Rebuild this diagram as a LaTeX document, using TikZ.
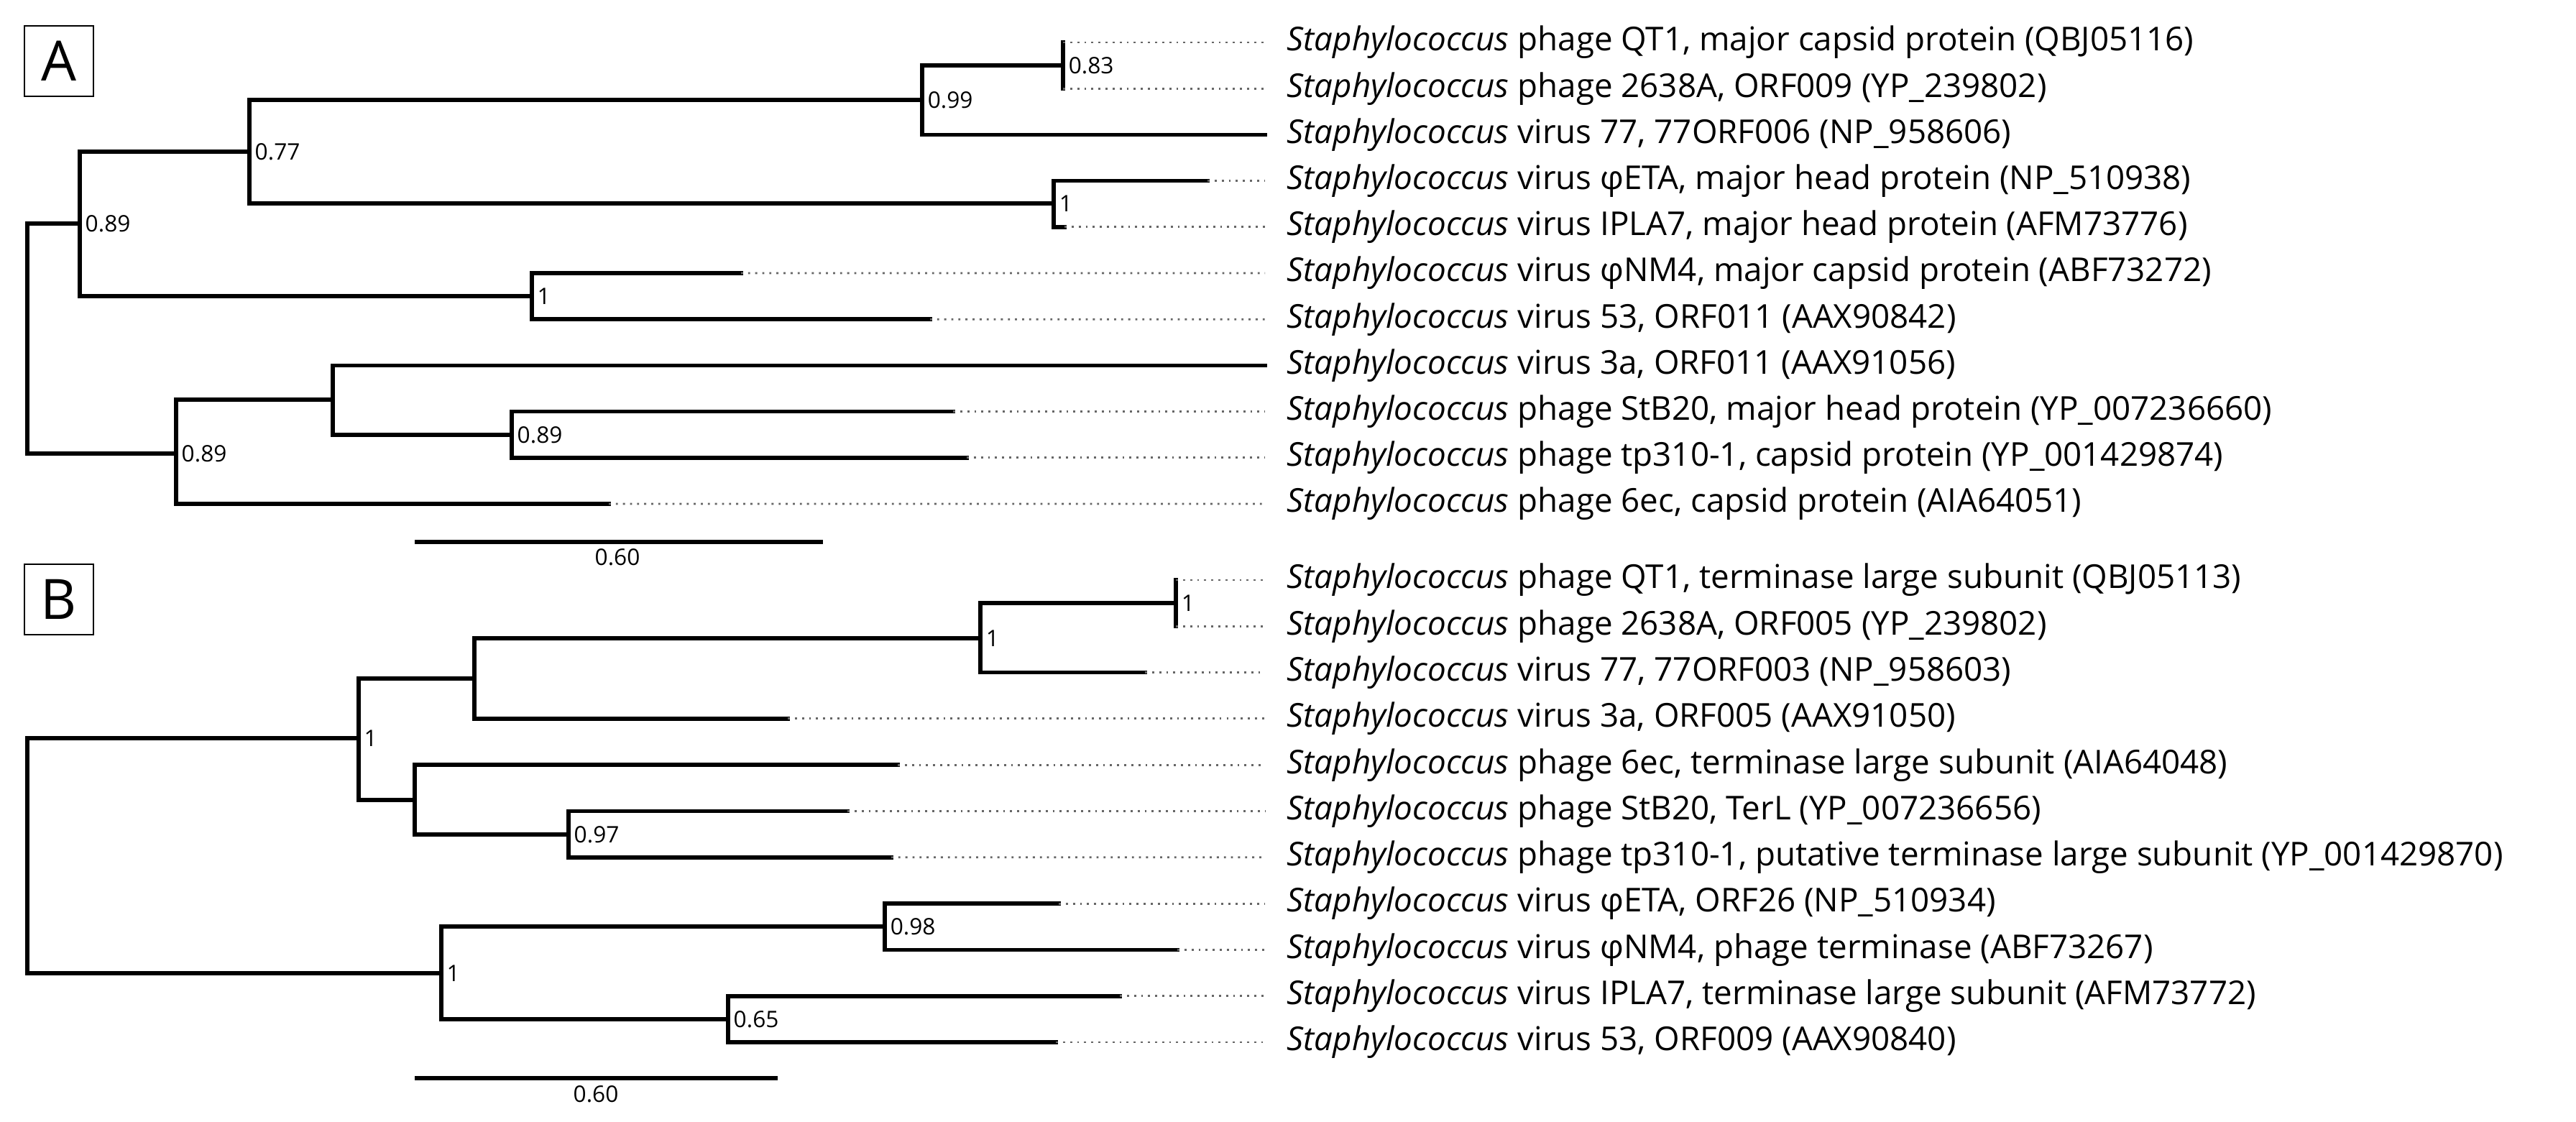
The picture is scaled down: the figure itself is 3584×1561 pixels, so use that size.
\documentclass[tikz,border=0pt]{standalone}
\usepackage{fontspec}
\setmainfont{Open Sans}
\usetikzlibrary{positioning,calc}
\tikzset{
  branch/.style={line width=1.6pt, line cap=rect},
  ext/.style={gray!80!black, line width=0.8pt, dotted, shorten >=0.3cm},
  leaf/.style={anchor=west, inner sep=0pt, font=\fontsize{13}{15}\selectfont},
  boot/.style={anchor=west, inner sep=2pt, font=\fontsize{9}{10}\selectfont},
  panel/.style={draw, line width=0.8pt, minimum width=0.96cm, minimum height=0.98cm, inner sep=0pt, font=\fontsize{22}{26}\selectfont}
}
\begin{document}
\begin{tikzpicture}[x=0.01cm, y=-0.01cm]
        \useasboundingbox (0,0) rectangle (3584,1561);

        % panel A
        \node[panel] (pA) at (82,85) {A};
        \foreach \t [count=\i from 0] in {
            {phage QT1, major capsid protein (QBJ05116)},
            {phage 2638A, ORF009 (YP\_239802)},
            {virus 77, 77ORF006 (NP\_958606)},
            {virus φETA, major head protein (NP\_510938)},
            {virus IPLA7, major head protein (AFM73776)},
            {virus φNM4, major capsid protein (ABF73272)},
            {virus 53, ORF011 (AAX90842)},
            {virus 3a, ORF011 (AAX91056)},
            {phage StB20, major head protein (YP\_007236660)},
            {phage tp310-1, capsid protein (YP\_001429874)},
            {phage 6ec, capsid protein (AIA64051)}}
            \node[leaf] (A\i) at (1790, 59+64.2*\i) {\textit{Staphylococcus} \t};

        \coordinate (ra) at (38,471);
        \coordinate (va) at (111,311);
        \coordinate (ua) at (347,211);
        \coordinate (pa) at (1283,139);
        \coordinate (qa) at (1479,91);
        \coordinate (ea) at (1466,283);
        \coordinate (na) at (740,412);
        \coordinate (wa) at (245,631);
        \coordinate (sa) at (463,556);
        \coordinate (ta) at (712,605);
        \coordinate (a0) at (1479,59);
        \coordinate (a1) at (1479,123.2);
        \coordinate (a2) at (1760,187.4);
        \coordinate (a3) at (1680,251.6);
        \coordinate (a4) at (1481,315.8);
        \coordinate (a5) at (1031,380);
        \coordinate (a6) at (1294,444.2);
        \coordinate (a7) at (1760,508.4);
        \coordinate (a8) at (1326,572.6);
        \coordinate (a9) at (1345,636.8);
        \coordinate (a10) at (847,701);

        \begin{scope}[branch]
            \draw (ra) |- (va);
            \draw (ra) |- (wa);
            \draw (va) |- (ua);
            \draw (va) |- (na);
            \draw (ua) |- (pa);
            \draw (ua) |- (ea);
            \draw (pa) |- (qa);
            \draw (pa) |- (a2);
            \draw (qa) |- (a0);
            \draw (qa) |- (a1);
            \draw (ea) |- (a3);
            \draw (ea) |- (a4);
            \draw (na) |- (a5);
            \draw (na) |- (a6);
            \draw (wa) |- (sa);
            \draw (wa) |- (a10);
            \draw (sa) |- (a7);
            \draw (sa) |- (ta);
            \draw (ta) |- (a8);
            \draw (ta) |- (a9);
        \end{scope}
        \foreach \i in {0,1,3,4,5,6,8,9,10}
            \draw[ext] (a\i) -- (A\i);

        \node[boot] (bqa) at (qa) {0.83};
        \node[boot] (bpa) at (pa) {0.99};
        \node[boot] (bua) at (ua) {0.77};
        \node[boot] (bea) at (ea) {1};
        \node[boot] (bva) at (va) {0.89};
        \node[boot] (bna) at (na) {1};
        \node[boot] (bwa) at (wa) {0.89};
        \node[boot] (bta) at (ta) {0.89};

        \coordinate (sA1) at (580,754);
        \coordinate (sA2) at (1142,754);
        \draw[branch] (sA1) -- (sA2);
        \node[boot, anchor=center] (lA) at (859,775) {0.60};

        % panel B
        \node[panel] (pB) at (82,834) {B};
        \foreach \t [count=\i from 0] in {
            {phage QT1, terminase large subunit (QBJ05113)},
            {phage 2638A, ORF005 (YP\_239802)},
            {virus 77, 77ORF003 (NP\_958603)},
            {virus 3a, ORF005 (AAX91050)},
            {phage 6ec, terminase large subunit (AIA64048)},
            {phage StB20, TerL (YP\_007236656)},
            {phage tp310-1, putative terminase large subunit (YP\_001429870)},
            {virus φETA, ORF26 (NP\_510934)},
            {virus φNM4, phage terminase (ABF73267)},
            {virus IPLA7, terminase large subunit (AFM73772)},
            {virus 53, ORF009 (AAX90840)}}
            \node[leaf] (B\i) at (1790, 807+64.3*\i) {\textit{Staphylococcus} \t};

        \coordinate (rb) at (38,1190);
        \coordinate (nb) at (499,1027);
        \coordinate (ob) at (660,944);
        \coordinate (pb) at (1364,888);
        \coordinate (qb) at (1636,839);
        \coordinate (mb) at (577,1113);
        \coordinate (kb) at (791,1161);
        \coordinate (hb) at (614,1354);
        \coordinate (gb) at (1231,1289);
        \coordinate (fb) at (1013,1418);
        \coordinate (b0) at (1636,807);
        \coordinate (b1) at (1636,871.3);
        \coordinate (b2) at (1593,935.6);
        \coordinate (b3) at (1096,999.9);
        \coordinate (b4) at (1249,1064.2);
        \coordinate (b5) at (1179,1128.5);
        \coordinate (b6) at (1240,1192.8);
        \coordinate (b7) at (1473,1257.1);
        \coordinate (b8) at (1638,1321.4);
        \coordinate (b9) at (1558,1385.7);
        \coordinate (b10) at (1469,1450);

        \begin{scope}[branch]
            \draw (rb) |- (nb);
            \draw (rb) |- (hb);
            \draw (nb) |- (ob);
            \draw (nb) |- (mb);
            \draw (ob) |- (pb);
            \draw (ob) |- (b3);
            \draw (pb) |- (qb);
            \draw (pb) |- (b2);
            \draw (qb) |- (b0);
            \draw (qb) |- (b1);
            \draw (mb) |- (b4);
            \draw (mb) |- (kb);
            \draw (kb) |- (b5);
            \draw (kb) |- (b6);
            \draw (hb) |- (gb);
            \draw (hb) |- (fb);
            \draw (gb) |- (b7);
            \draw (gb) |- (b8);
            \draw (fb) |- (b9);
            \draw (fb) |- (b10);
        \end{scope}
        \foreach \i in {0,...,10}
            \draw[ext] (b\i) -- (B\i);

        \node[boot] (bqb) at (qb) {1};
        \node[boot] (bpb) at (pb) {1};
        \node[boot] (bnb) at (nb) {1};
        \node[boot] (bkb) at (kb) {0.97};
        \node[boot] (bgb) at (gb) {0.98};
        \node[boot] (bhb) at (hb) {1};
        \node[boot] (bfb) at (fb) {0.65};

        \coordinate (sB1) at (580,1500);
        \coordinate (sB2) at (1079,1500);
        \draw[branch] (sB1) -- (sB2);
        \node[boot, anchor=center] (lB) at (829,1522) {0.60};

\end{tikzpicture}
\end{document}
